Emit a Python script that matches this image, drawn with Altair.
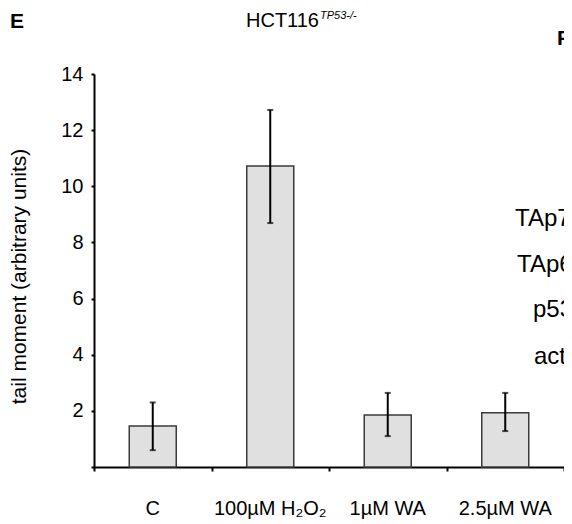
import altair as alt
import pandas as pd

# ---- data ----
categories = ["C", "100µM H₂O₂", "1µM WA", "2.5µM WA"]
means = [1.46, 10.72, 1.85, 1.93]
err_low = [0.60, 8.69, 1.10, 1.28]
err_high = [2.30, 12.72, 2.64, 2.64]
y_ticks = [0, 2, 4, 6, 8, 10, 12, 14]
x_bounds = [0, 1, 2, 3, 4]

title_main = "HCT116"
title_sup = "TP53-/-"
panel_letters = ["E", "F"]
side_labels = ["TAp73", "TAp63", "p53", "actin"]

FONT = "Liberation Sans"
W, H = 470, 393

df = pd.DataFrame({"cat": categories, "mean": means, "lo": err_low, "hi": err_high})
df["pos"] = df.index + 0.5
df["left"] = df["pos"] - 0.2
df["right"] = df["pos"] + 0.2

xs = alt.Scale(domain=[0, 4], nice=False, zero=False)
ys = alt.Scale(domain=[0, 14], nice=False)

x_axis = alt.Axis(values=x_bounds, labels=False, title=None, tickSize=4, tickWidth=2,
                  tickColor="black", domainColor="black", domainWidth=2, grid=False)
y_axis = alt.Axis(values=y_ticks, title="tail moment (arbitrary units)", tickSize=3,
                  tickWidth=2, tickColor="black", domainColor="black", domainWidth=2,
                  grid=False, labelFont=FONT, labelFontSize=20, labelColor="black",
                  labelPadding=8, labelExpr="datum.value == 0 ? '' : datum.label",
                  titleFont=FONT, titleFontSize=21, titleFontWeight="normal",
                  titleColor="black", titleX=-65, titleY=202)

base = alt.Chart(df)
bars = base.mark_bar(fill="#e0e0e0", stroke="#3a3a3a", strokeWidth=1.5).encode(
    x=alt.X("left:Q", scale=xs, axis=x_axis),
    x2="right:Q",
    y=alt.Y("mean:Q", scale=ys, axis=y_axis),
    y2=alt.datum(0),
)
whisk = base.mark_rule(color="black", strokeWidth=2).encode(
    x=alt.X("pos:Q", scale=xs), y=alt.Y("lo:Q", scale=ys), y2="hi:Q")
cap_hi = base.mark_tick(orient="horizontal", color="black", size=6, thickness=2).encode(
    x=alt.X("pos:Q", scale=xs), y=alt.Y("hi:Q", scale=ys))
cap_lo = base.mark_tick(orient="horizontal", color="black", size=6, thickness=2).encode(
    x=alt.X("pos:Q", scale=xs), y=alt.Y("lo:Q", scale=ys))
xlabels = base.mark_text(font=FONT, fontSize=20, color="black", baseline="middle",
                         align="center").encode(
    x=alt.X("pos:Q", scale=xs), y=alt.value(H + 42), text="cat:N")

def txt(label, px, py, **kw):
    return alt.Chart(pd.DataFrame({"t": [label]})).mark_text(
        font=FONT, color="black", align="left", baseline="alphabetic", **kw
    ).encode(x=alt.value(px), y=alt.value(py), text="t:N")

annots = [
    txt(panel_letters[0], -84, -46, fontSize=21, fontWeight="bold"),
    txt(panel_letters[1], 463, -29, fontSize=21, fontWeight="bold"),
    txt(title_main, 152, -47, fontSize=20),
    txt(title_sup, 226, -55, fontSize=11, fontStyle="italic"),
    txt(side_labels[0], 421, 152, fontSize=24),
    txt(side_labels[1], 423, 198, fontSize=24),
    txt(side_labels[2], 439, 243, fontSize=24),
    txt(side_labels[3], 440, 290, fontSize=24),
]

chart = alt.layer(bars, whisk, cap_hi, cap_lo, xlabels, *annots).properties(
    width=W, height=H,
    autosize=alt.AutoSizeParams(type="none"),
    padding={"left": 86, "top": 66, "right": 0, "bottom": 56},
).configure_view(stroke=None)

chart.save("out.html", embed_options={"renderer": "svg", "actions": False})
